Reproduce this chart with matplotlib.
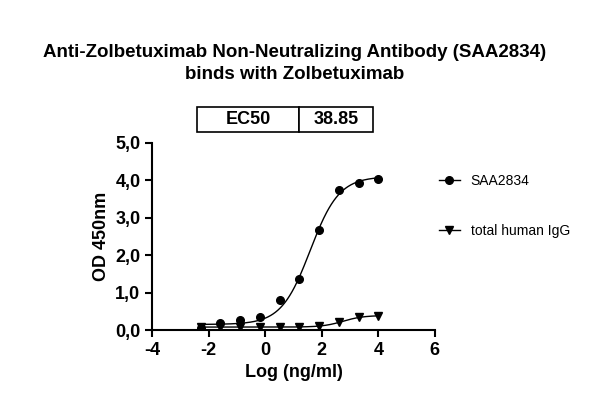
import numpy as np
import matplotlib.pyplot as plt

plt.rcParams['font.family'] = ['Liberation Sans', 'DejaVu Sans']
plt.rcParams['axes.unicode_minus'] = False

log_conc = [4.0, 3.30, 2.60, 1.90, 1.20, 0.51, -0.19, -0.89, -1.59, -2.29]
saa2834 = [4.04, 3.93, 3.74, 2.67, 1.36, 0.80, 0.35, 0.27, 0.19, 0.05]
igg = [0.37, 0.35, 0.21, 0.10, 0.08, 0.08, 0.08, 0.08, 0.08, 0.08]
ec50 = "38.85"

def fourpl(x, bottom, top, logec, hill):
    return bottom + (top - bottom) / (1 + 10 ** ((logec - x) * hill))

fig = plt.figure(figsize=(5.9, 4.08), dpi=100)
ax = fig.add_axes([0.258, 0.191, 0.479, 0.459])

xs = np.linspace(min(log_conc), max(log_conc), 300)
ax.plot(xs, fourpl(xs, 0.15, 4.1, np.log10(float(ec50)), 0.85), color='black', lw=1)
ax.plot(xs, fourpl(xs, 0.08, 0.39, 2.75, 1.2), color='black', lw=1)
ax.plot(log_conc, saa2834, 'o', color='black', ms=5.5)
ax.plot(log_conc, igg, 'v', color='black', ms=5.5)

ax.set_xlim(-4, 6)
ax.set_ylim(0, 5)
ax.set_xticks([-4, -2, 0, 2, 4, 6])
ax.set_yticks([0, 1, 2, 3, 4, 5])
ax.set_yticklabels(['0,0', '1,0', '2,0', '3,0', '4,0', '5,0'])
for s in ['top', 'right']:
    ax.spines[s].set_visible(False)
for s in ['left', 'bottom']:
    ax.spines[s].set_linewidth(1.5)
ax.tick_params(width=1.5, length=5, labelsize=13)
for lab in ax.get_xticklabels() + ax.get_yticklabels():
    lab.set_fontweight('bold')
ax.set_xlabel('Log (ng/ml)', fontsize=13, fontweight='bold')
ax.set_ylabel('OD 450nm', fontsize=13, fontweight='bold')

fig.text(0.5, 0.845, 'Anti-Zolbetuximab Non-Neutralizing Antibody (SAA2834)\nbinds with Zolbetuximab',
         ha='center', va='center', fontsize=13.5, fontweight='bold', linespacing=1.35)

tab = ax.table(cellText=[['EC50', ec50]], bbox=[0.16, 1.06, 0.62, 0.13],
               cellLoc='center', colWidths=[0.58, 0.42])
tab.auto_set_font_size(False)
for c in tab.get_celld().values():
    c.set_text_props(fontsize=13, fontweight='bold')
    c.set_linewidth(1.2)

ax.legend(handles=[plt.Line2D([], [], color='black', marker='o', lw=1, ms=5.5),
                   plt.Line2D([], [], color='black', marker='v', lw=1, ms=5.5)],
          labels=['SAA2834', 'total human IgG'], loc='upper left',
          bbox_to_anchor=(0.97, 0.9), frameon=False, fontsize=10, handlelength=1.5,
          labelspacing=2.6)

fig.savefig('out.png', dpi=100)
